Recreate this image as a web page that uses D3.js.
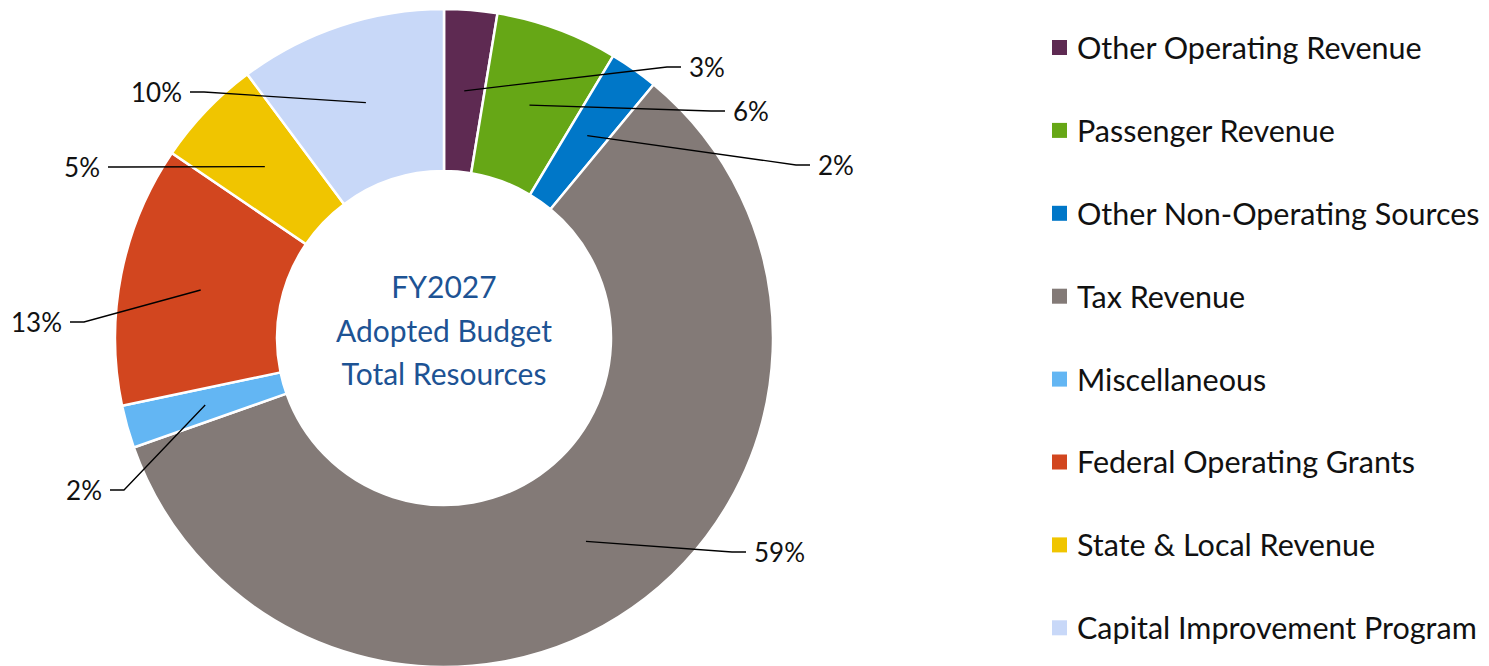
<!DOCTYPE html>
<html>
<head>
<meta charset="utf-8">
<script src="https://cdn.jsdelivr.net/npm/d3@7"></script>
<style>
  html, body { margin: 0; padding: 0; background: #fff; }
  svg { display: block; font-family: Lato, "Noto Sans", sans-serif; }
</style>
</head>
<body>
<svg id="chart" width="1489" height="666"></svg>
<script>
// Revenue sources, in drawing order (clockwise from 12 o'clock)
const categories = [
  "Other Operating Revenue",
  "Passenger Revenue",
  "Other Non-Operating Sources",
  "Tax Revenue",
  "Miscellaneous",
  "Federal Operating Grants",
  "State & Local Revenue",
  "Capital Improvement Program"
];
// Share of total resources, percent
const shares = [2.6, 6.0, 2.4, 58.6, 2.1, 12.8, 5.3, 10.2];
const colors = ["#5E2A52", "#66A716", "#0077C8", "#837A77", "#63B6F3", "#D2461F", "#F0C500", "#C8D8F8"];
const centerLines = ["FY2027", "Adopted Budget", "Total Resources"];

// Where each percentage label sits, relative to the ring's centre
const labelSpots = [
  [245, -270], [289, -226], [374, -172], [310, 215],
  [-342, 153], [-382, -15], [-344, -170], [-262, -245]
];

const svg = d3.select("#chart");
const cx = 444, cy = 338;
const outerR = 329, innerR = 167;

const total = d3.sum(shares);
const pie = d3.pie().sort(null).value(d => d.value);
const arcs = pie(categories.map((c, i) => ({ name: c, value: shares[i], color: colors[i], spot: labelSpots[i] })));
const arc = d3.arc().innerRadius(innerR).outerRadius(outerR);
const midArc = d3.arc().innerRadius((innerR + outerR) / 2).outerRadius((innerR + outerR) / 2);

const g = svg.append("g").attr("transform", `translate(${cx},${cy})`);

g.selectAll("path.slice")
  .data(arcs)
  .join("path")
  .attr("class", "slice")
  .attr("d", arc)
  .attr("fill", d => d.data.color)
  .attr("stroke", "#fff")
  .attr("stroke-width", 2.5)
  .attr("stroke-linejoin", "miter");

// Leader lines from each slice to its label
g.selectAll("path.leader")
  .data(arcs)
  .join("path")
  .attr("class", "leader")
  .attr("fill", "none")
  .attr("stroke", "#000")
  .attr("stroke-width", 1.3)
  .attr("d", d => {
    const [sx, sy] = midArc.centroid(d);
    const [lx, ly] = d.data.spot;
    const dir = lx >= 0 ? 1 : -1;
    const endX = lx - dir * 8;
    const elbowX = lx - dir * 22;
    return `M${sx},${sy}L${elbowX},${ly - 1}L${endX},${ly - 1}`;
  });

g.selectAll("text.pct")
  .data(arcs)
  .join("text")
  .attr("class", "pct")
  .attr("x", d => d.data.spot[0])
  .attr("y", d => d.data.spot[1])
  .attr("dy", "0.36em")
  .attr("text-anchor", d => d.data.spot[0] >= 0 ? "start" : "end")
  .attr("font-size", 26)
  .attr("fill", "#111")
  .text(d => Math.round(d.data.value / total * 100) + "%");

// Title in the hole
g.selectAll("text.center")
  .data(centerLines)
  .join("text")
  .attr("class", "center")
  .attr("x", 0)
  .attr("y", (d, i) => (i - 1) * 43.5 - 7)
  .attr("dy", "0.36em")
  .attr("text-anchor", "middle")
  .attr("font-size", 30)
  .attr("fill", "#1D5394")
  .text(d => d);

// Legend
const legend = svg.append("g").attr("transform", "translate(1052,48)");
const rows = legend.selectAll("g.row")
  .data(arcs)
  .join("g")
  .attr("class", "row")
  .attr("transform", (d, i) => `translate(0,${i * 82.9})`);
rows.append("rect")
  .attr("x", 0).attr("y", -8)
  .attr("width", 15).attr("height", 15)
  .attr("fill", d => d.data.color);
rows.append("text")
  .attr("x", 25)
  .attr("y", 0)
  .attr("dy", "0.36em")
  .attr("font-size", 30.5)
  .attr("fill", "#111")
  .text(d => d.data.name);
</script>
</body>
</html>
